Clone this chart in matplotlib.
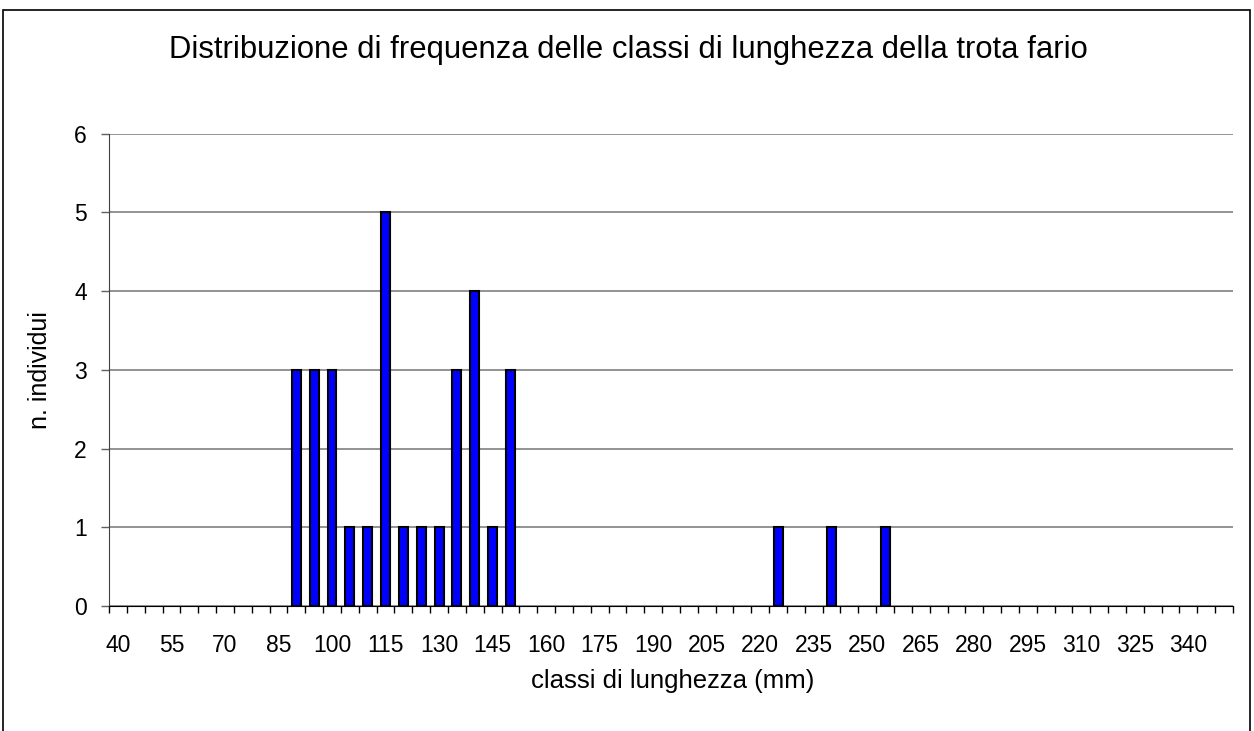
import matplotlib
matplotlib.use("Agg")
import matplotlib.pyplot as plt
from matplotlib.patches import Rectangle

plt.rcParams['font.family'] = ['Liberation Sans', 'DejaVu Sans']

# Data
categories = list(range(40, 355, 5))  # 40..350
counts_map = {90: 3, 95: 3, 100: 3, 105: 1, 110: 1, 115: 5, 120: 1, 125: 1,
              130: 1, 135: 3, 140: 4, 145: 1, 150: 3, 225: 1, 240: 1, 255: 1}
counts = [counts_map.get(c, 0) for c in categories]
title = "Distribuzione di frequenza delle classi di lunghezza della trota fario"
xlabel = "classi di lunghezza (mm)"
ylabel = "n. individui"

W, H = 1254, 731
fig = plt.figure(figsize=(W / 100, H / 100), dpi=100)
ax = fig.add_axes([109 / W, 1 - 606 / H, (1233 - 109) / W, (606 - 133.7) / H])

x = list(range(len(categories)))
bx = [i for i, v in zip(x, counts) if v > 0]
bv = [v for v in counts if v > 0]
ax.bar(bx, bv, width=0.5, color='#0000FF', edgecolor='black', linewidth=1.5, zorder=3)

ax.set_xlim(-0.5, len(categories) - 0.5)
ax.set_ylim(0, 6)
ax.set_yticks(range(0, 7))
ax.yaxis.grid(True, color='#808080', linewidth=1.2, zorder=0)

ax.set_xticks(x)
ax.set_xticklabels([str(c) if i % 3 == 0 else '' for i, c in enumerate(categories)], fontsize=16.5)
ax.tick_params(axis='x', which='major', length=0, pad=20)
ax.set_xticks([i - 0.5 for i in range(len(categories) + 1)], minor=True)
ax.tick_params(axis='x', which='minor', length=5, width=1, color='black', direction='out')
ax.tick_params(axis='y', length=6, width=1, color='#606060', labelsize=16.5, pad=10)

for s in ['top', 'right']:
    ax.spines[s].set_visible(False)
ax.spines['left'].set_color('#404040')
ax.spines['bottom'].set_color('black')
ax.spines['bottom'].set_zorder(4)

fig.text(673 / W, 1 - 681 / H, xlabel, ha='center', va='center', fontsize=18.5)
fig.text(40 / W, 1 - 370 / H, ylabel, ha='center', va='center', rotation=90, fontsize=18)
fig.text(628 / W, 1 - 50 / H, title, ha='center', va='center', fontsize=22.3)

fig.patches.append(Rectangle((3 / W, -0.01), 1247 / W, (H - 10) / H + 0.01,
                             transform=fig.transFigure, fill=False,
                             edgecolor='black', linewidth=1.2))

fig.savefig("out.png", dpi=100)
